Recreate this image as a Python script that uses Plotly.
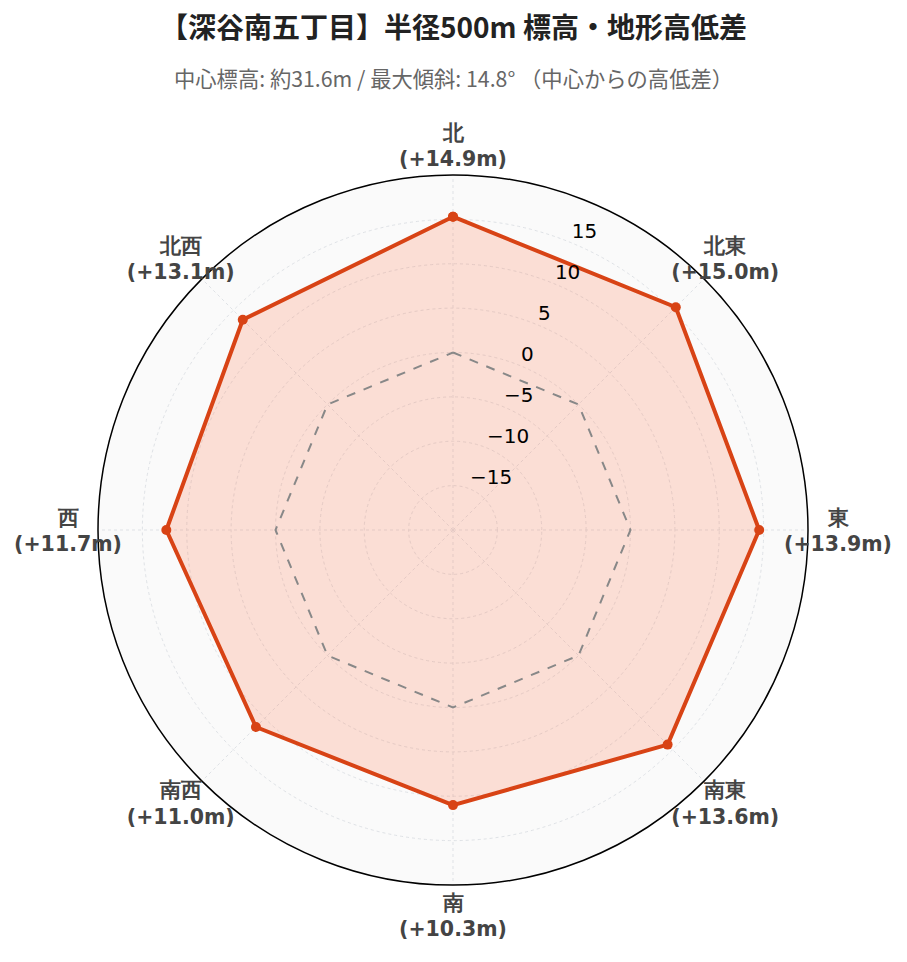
import plotly.graph_objects as go

# ---- data ----
directions = ["北", "北東", "東", "南東", "南", "南西", "西", "北西"]
angles_deg = [0, 45, 90, 135, 180, 225, 270, 315]
label_diffs = ["+14.9m", "+15.0m", "+13.9m", "+13.6m", "+10.3m", "+11.0m", "+11.7m", "+13.1m"]
plotted_diffs = [15.3, 15.5, 14.5, 14.2, 11.0, 11.4, 12.3, 13.5]
zero_ref = [0, 0, 0, 0, 0, 0, 0, 0]
radial_ticks = [-15, -10, -5, 0, 5, 10, 15]
radial_ticktext = ["\u221215", "\u221210", "\u22125", "0", "5", "10", "15"]

title_text = "【深谷南五丁目】半径500m 標高・地形高低差"
subtitle_text = "中心標高: 約31.6m / 最大傾斜: 14.8° （中心からの高低差）"

# ---- layout constants ----
RANGE = [-20, 20]
RADIAL_LABEL_THETA = 22.5
W, H = 891, 946
# label ring box (figure pixels)
L, R, T, B = 60, 61, 140, 36
PW, PH = W - L - R, H - T - B
# main polar box (figure pixels)
MX0, MX1, MY0, MY1 = 90, 800, 167, 877
main_dom_x = [(MX0 - L) / PW, (MX1 - L) / PW]
main_dom_y = [(H - B - MY1) / PH, (H - B - MY0) / PH]

dir_labels = [f"<b>{d}</b><br><b>({v})</b>" for d, v in zip(directions, label_diffs)]
theta_closed = angles_deg + [angles_deg[0]]

fig = go.Figure()
fig.add_trace(go.Scatterpolar(
    r=plotted_diffs + [plotted_diffs[0]],
    theta=theta_closed,
    mode="lines+markers",
    fill="toself",
    fillcolor="rgba(255,112,67,0.2)",
    line=dict(color="#D84315", width=4),
    marker=dict(color="#D84315", size=10),
    showlegend=False,
    subplot="polar",
))
fig.add_trace(go.Scatterpolar(
    r=zero_ref + [zero_ref[0]],
    theta=theta_closed,
    mode="lines",
    line=dict(color="#888888", width=2, dash="dash"),
    hoverinfo="skip",
    showlegend=False,
    subplot="polar",
))
# radial tick labels (horizontal, just above-right of the axis at 22.5°)
fig.add_trace(go.Scatterpolar(
    r=radial_ticks,
    theta=[RADIAL_LABEL_THETA] * len(radial_ticks),
    mode="text",
    text=radial_ticktext,
    textposition="top right",
    textfont=dict(family="DejaVu Sans, Verdana, sans-serif", size=20, color="black"),
    hoverinfo="skip",
    showlegend=False,
    subplot="polar",
))
# direction labels on an invisible, slightly larger polar ring
fig.add_trace(go.Scatterpolar(
    r=[1] * len(angles_deg),
    theta=angles_deg,
    mode="text",
    text=dir_labels,
    textposition="middle center",
    textfont=dict(family="DejaVu Sans, Verdana, sans-serif", size=20.5, color="#444"),
    cliponaxis=False,
    hoverinfo="skip",
    showlegend=False,
    subplot="polar2",
))

hidden_axis = dict(showgrid=False, showline=False, showticklabels=False, ticks="")

fig.update_layout(
    width=W,
    height=H,
    paper_bgcolor="white",
    margin=dict(l=L, r=R, t=T, b=B),
    font=dict(family="DejaVu Sans, Verdana, sans-serif", color="#333"),
    title=dict(
        text=f"<b>{title_text}</b>",
        x=0.5, xanchor="center",
        y=1 - 20 / H, yanchor="middle", yref="container",
        font=dict(family="Noto Sans CJK JP, sans-serif", size=28, color="#222"),
    ),
    annotations=[dict(
        text=subtitle_text,
        x=0.5, xref="paper", xanchor="center",
        y=(H - B - 69) / PH, yref="paper", yanchor="middle",
        showarrow=False,
        font=dict(family="Noto Sans CJK JP, sans-serif", size=21.3, color="#666"),
    )],
    polar=dict(
        domain=dict(x=main_dom_x, y=main_dom_y),
        bgcolor="#fafafa",
        angularaxis=dict(
            rotation=90,
            direction="clockwise",
            thetaunit="degrees",
            tickmode="array",
            tickvals=angles_deg,
            showticklabels=False,
            showline=True,
            linecolor="black",
            linewidth=1.5,
            gridcolor="#dfe2e6",
            griddash="dot",
            ticks="",
        ),
        radialaxis=dict(
            range=RANGE,
            tickmode="array",
            tickvals=radial_ticks,
            angle=67.5,
            showticklabels=False,
            showline=False,
            ticks="",
            gridcolor="#dfe2e6",
            griddash="dot",
        ),
    ),
    polar2=dict(
        domain=dict(x=[0, 1], y=[0, 1]),
        bgcolor="rgba(0,0,0,0)",
        angularaxis=dict(rotation=90, direction="clockwise", thetaunit="degrees", **hidden_axis),
        radialaxis=dict(range=[0, 1], **hidden_axis),
    ),
)

fig.write_html("out.html")
